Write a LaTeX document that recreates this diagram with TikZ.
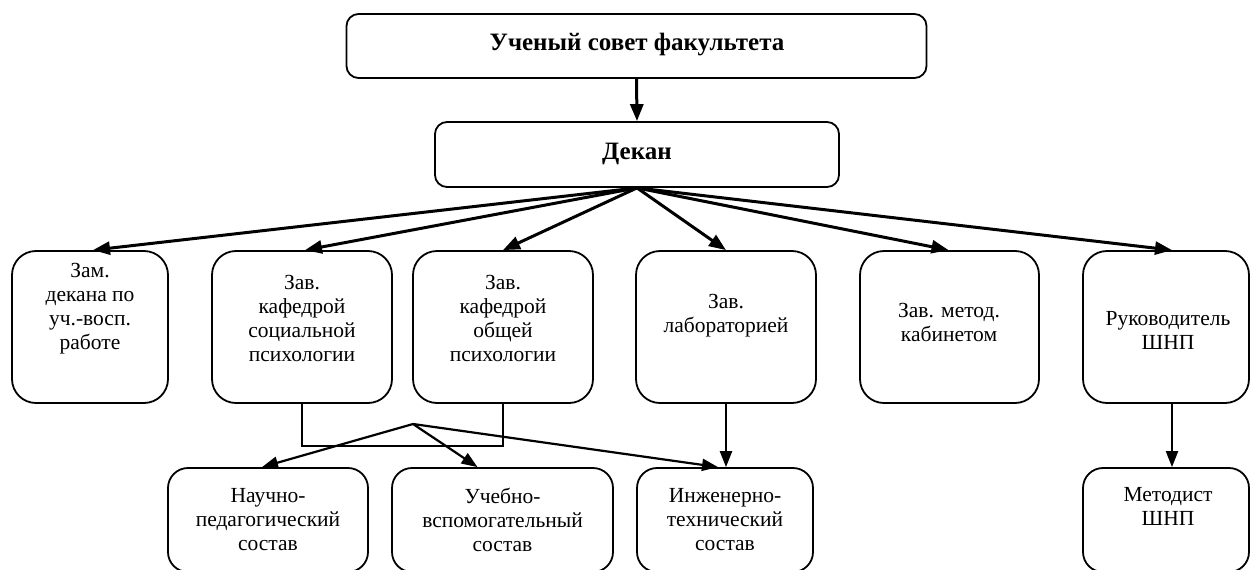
\documentclass[tikz,border=0pt]{standalone}
\usepackage{fontspec}
\setmainfont{Liberation Serif}
\usetikzlibrary{arrows.meta}
\begin{document}
\begin{tikzpicture}[x=1pt,y=-1pt,
  box/.style={draw, line width=1.8pt, rounded corners=24pt, inner sep=0pt, minimum height=152pt},
  hbox/.style={draw, line width=1.8pt, rounded corners=12pt, inner sep=0pt},
  lbox/.style={draw, line width=1.8pt, rounded corners=20pt, inner sep=0pt, minimum height=104pt},
  txt/.style={align=center, inner sep=0pt, font=\fontsize{21.5}{24}\selectfont},
  btxt/.style={txt, font=\fontsize{25}{28}\selectfont\bfseries},
  fan/.style={line width=3pt, -{Triangle[length=17pt,width=13pt]}},
  sub/.style={line width=2.2pt, -{Triangle[length=16pt,width=12pt]}},
  link/.style={line width=2.2pt}
]
\fill[white] (0,0) rectangle (1253,570);
\useasboundingbox (0,0) rectangle (1253,570);
\clip (0,0) rectangle (1253,570);

% top
\node[hbox, minimum width=580pt, minimum height=64pt] (top) at (636.5,46) {};
\node[btxt] (ttop) at (637,45) {Ученый совет факультета};
\node[hbox, minimum width=404pt, minimum height=65pt] (dekan) at (637,154.5) {};
\node[btxt] (tdekan) at (637,154) {Декан};

% second row
\node[box, minimum width=156pt] (b1) at (90,327) {};
\node[box, minimum width=180pt] (b2) at (302,327) {};
\node[box, minimum width=180pt] (b3) at (503,327) {};
\node[box, minimum width=180pt] (b4) at (726,327) {};
\node[box, minimum width=179pt] (b5) at (949.5,327) {};
\node[box, minimum width=166pt] (b6) at (1166,327) {};

\node[txt] (t1) at (90,309) {Зам.\\декана по\\уч.-восп.\\работе};
\node[txt] (t2) at (302,318) {Зав.\\кафедрой\\социальной\\психологии};
\node[txt] (t3) at (503,318) {Зав.\\кафедрой\\общей\\психологии};
\node[txt] (t4) at (726,316) {Зав.\\лабораторией};
\node[txt] (t5) at (949,322) {Зав. метод.\\кабинетом};
\node[txt] (t6) at (1168,330) {Руководитель\\ШНП};

% bottom row
\node[lbox, minimum width=200pt] (bA) at (268,520) {};
\node[lbox, minimum width=221pt] (bB) at (502.5,520) {};
\node[lbox, minimum width=176pt] (bC) at (725,520) {};
\node[lbox, minimum width=166pt] (bD) at (1166,520) {};

\node[txt] (tA) at (268,520) {Научно-\\педагогический\\состав};
\node[txt] (tB) at (502.5,520) {Учебно-\\вспомогательный\\состав};
\node[txt] (tC) at (725,520) {Инженерно-\\технический\\состав};
\node[txt] (tD) at (1168,506) {Методист\\ШНП};

% connectors
\draw[fan] (top.south) -- (dekan.north);
\draw[fan] (dekan.south) -- ([xshift=3pt]b1.north);
\draw[fan] (dekan.south) -- ([xshift=3pt]b2.north);
\draw[fan] (dekan.south) -- (b3.north);
\draw[fan] (dekan.south) -- (b4.north);
\draw[fan] (dekan.south) -- ([xshift=-1pt]b5.north);
\draw[fan] (dekan.south) -- ([xshift=6pt]b6.north);

\draw[link] (b2.south) -- ++(0,42) -| (b3.south);
\coordinate (apex) at (413,424);
\draw[sub] (apex) -- ([xshift=-6pt]bA.north);
\draw[sub] (apex) -- ([xshift=-25pt]bB.north);
\draw[sub] (apex) -- ([xshift=-7pt]bC.north);
\draw[sub] (b4.south) -- (b4.south |- bC.north);
\draw[sub] ([xshift=6pt]b6.south) -- ([xshift=6pt]bD.north);
\end{tikzpicture}
\end{document}
